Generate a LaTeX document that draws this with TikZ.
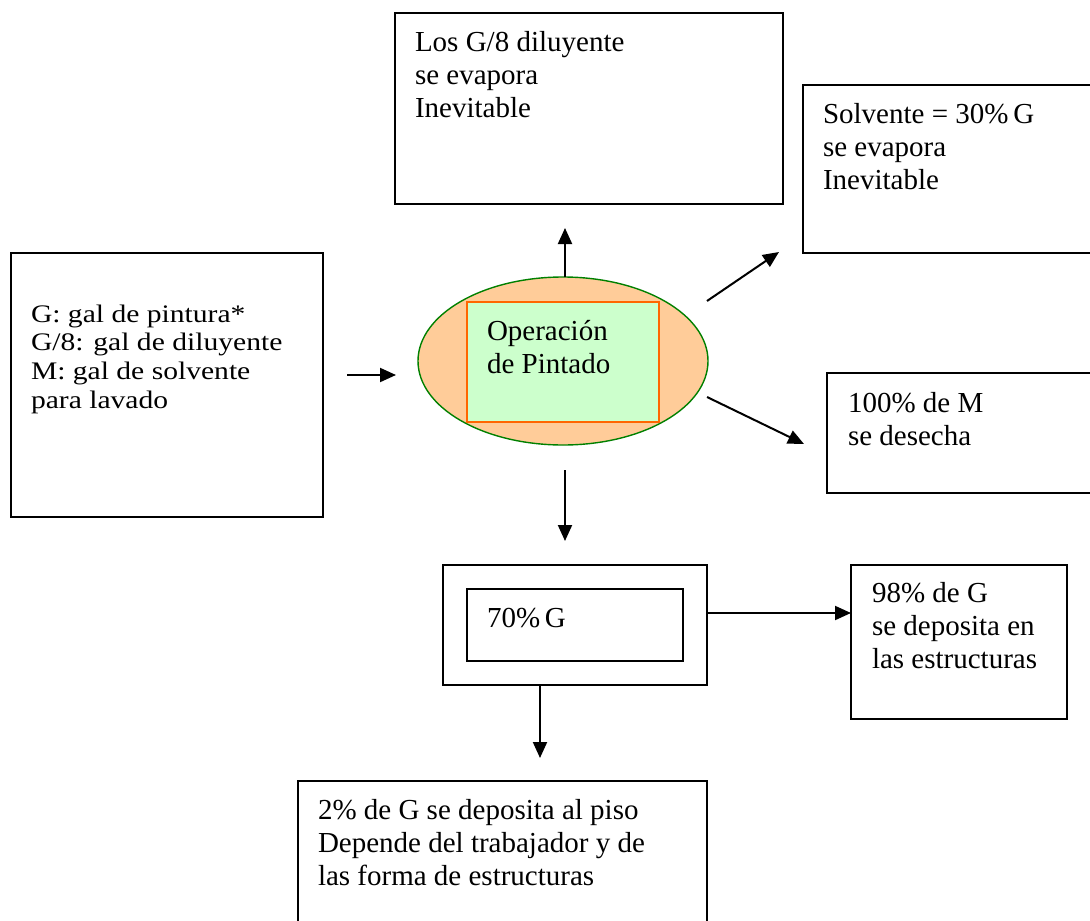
\documentclass[tikz,border=0pt]{standalone}
\usepackage{fontspec}
\setmainfont{Liberation Serif}
\usetikzlibrary{arrows.meta,shapes.geometric,calc}
\definecolor{ellfill}{HTML}{FFCC99}
\definecolor{ellline}{HTML}{008000}
\definecolor{recfill}{HTML}{CCFFCC}
\definecolor{recline}{HTML}{FF6600}
\begin{document}
\begin{tikzpicture}[x=1pt,y=-1pt,
  box/.style={draw=black,line width=1.5pt,inner sep=0pt,outer sep=0pt,anchor=north west},
  txt/.style={anchor=base west,inner sep=0pt,outer sep=0pt},
  arr/.style={line width=2pt,-{Triangle[length=16pt,width=14pt]}}]
\useasboundingbox (0,0) rectangle (1090,921);
\clip (0,0) rectangle (1090,921);
\newcommand{\bt}[2]{\parbox[t]{#1pt}{\fontsize{29}{33}\selectfont #2}}
% boxes
\node[box,minimum width=388pt,minimum height=191pt] (top) at (395,13) {};
\node[box,minimum width=300pt,minimum height=168pt] (solv) at (803,85) {};
\node[box,minimum width=312pt,minimum height=264pt] (left) at (11,253) {};
\node[ellipse,draw=ellline,fill=ellfill,line width=1.4pt,minimum width=290pt,minimum height=168pt,inner sep=0pt] (ell) at (563,361) {};
\node[box,draw=recline,fill=recfill,minimum width=192pt,minimum height=120pt] (op) at (467,302) {};
\node[box,minimum width=280pt,minimum height=120pt] (mbox) at (827,373) {};
\node[box,minimum width=264pt,minimum height=120pt] (out) at (443,565) {};
\node[box,minimum width=216pt,minimum height=72pt] (in) at (467,589) {};
\node[box,minimum width=216pt,minimum height=154pt] (r98) at (851,565) {};
\node[box,minimum width=409pt,minimum height=160pt] (bot) at (298,781) {};
% texts
\node[txt] (topt) at (415,51) {\bt{360}{Los G/8 diluyente\\se evapora\\Inevitable}};
\node[txt] (solvt) at (823,123) {\bt{260}{Solvente = 30\%\,G\\se evapora\\Inevitable}};
\node[txt] (leftt) at (31,322) {\scalebox{1.02}[0.87]{\bt{290}{G: gal de pintura*\\G/8: gal de diluyente\\M: gal de solvente\\para lavado}}};
\node[txt] (opt) at (487,340) {\bt{170}{Operación\\de Pintado}};
\node[txt] (mt) at (848,412) {\bt{230}{100\% de M\\se desecha}};
\node[txt] (int) at (487,627) {\bt{180}{70\%\,G}};
\node[txt] (r98t) at (872,602) {\bt{190}{98\% de G\\se deposita en\\las estructuras}};
\node[txt] (bott) at (318,819) {\bt{385}{2\% de G se deposita al piso\\Depende del trabajador y de\\las forma de estructuras}};
% connector ends
\coordinate (inS) at (347,375);
\coordinate (inE) at (396,375);
\coordinate (upS) at (565,277);
\coordinate (upE) at (565,228);
\coordinate (urS) at (707,301);
\coordinate (urE) at (779,252);
\coordinate (drS) at (707,397);
\coordinate (drE) at (804,444);
\coordinate (dnS) at (565,470);
\coordinate (dnE) at (565,541);
\coordinate (rtS) at (707,613);
\coordinate (rtE) at (851,613);
\coordinate (btS) at (540,685);
\coordinate (btE) at (540,758);
\draw[arr] (inS) -- (inE);
\draw[arr] (upS) -- (upE);
\draw[arr] (urS) -- (urE);
\draw[arr] (drS) -- (drE);
\draw[arr] (dnS) -- (dnE);
\draw[arr] (rtS) -- (rtE);
\draw[arr] (btS) -- (btE);
\end{tikzpicture}
\end{document}
